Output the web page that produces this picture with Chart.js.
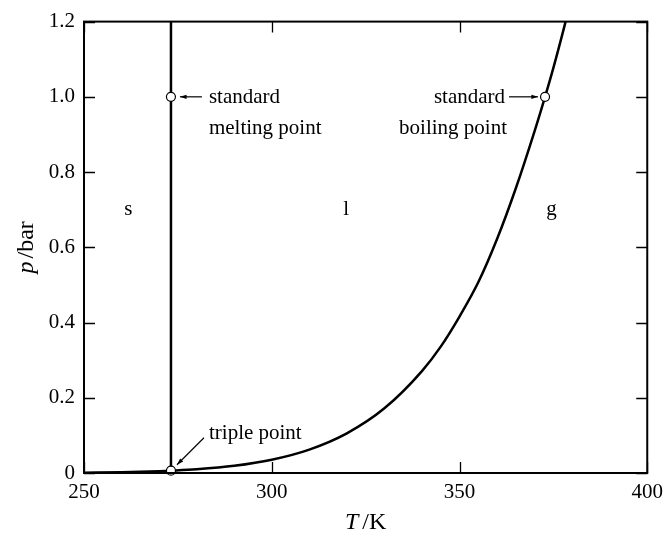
<!DOCTYPE html>
<html>
<head>
<meta charset="utf-8">
<title>Phase diagram of water</title>
<script src="https://cdn.jsdelivr.net/npm/chart.js@4.4.1/dist/chart.umd.min.js"></script>
<style>
    html, body { margin: 0; padding: 0; background: #fff; }
    #wrap { width: 670px; height: 533px; }
</style>
</head>
<body>
<div id="wrap"><canvas id="phaseChart" width="670" height="533"></canvas></div>
<script>
// ---- data ----
// vapour pressure / sublimation curve
const curveT = [250, 260, 270, 273.16, 280, 290, 300, 310, 320, 330, 340, 345, 350, 355, 360, 365, 370, 372.78, 375, 378, 380];
const curveP = [0.0008, 0.002, 0.0047, 0.0061, 0.0099, 0.0192, 0.0354, 0.0623, 0.1055, 0.172, 0.271, 0.336, 0.416, 0.507, 0.622, 0.757, 0.909, 1.0, 1.077, 1.19, 1.27];
// melting line (vertical)
const meltT = [273.16, 273.16];
const meltP = [0.0061, 1.2];
// marked points: triple, standard melting, standard boiling
const pointT = [273.16, 273.15, 372.78];
const pointP = [0.0061, 1.0, 1.0];

const xTicks = [250, 300, 350, 400];
const yTicks = [0, 0.2, 0.4, 0.6, 0.8, 1.0, 1.2];

const FONT = '"Liberation Serif", "DejaVu Serif", serif';

function toXY(xs, ys) {
    return xs.map((x, i) => ({ x: x, y: ys[i] }));
}

// ---- frame, inward ticks, labels, arrows ----
function arrow(ctx, x1, y1, x2, y2) {
    const a = Math.atan2(y2 - y1, x2 - x1);
    const h = 7;
    ctx.beginPath();
    ctx.moveTo(x1, y1);
    ctx.lineTo(x2, y2);
    ctx.lineWidth = 1.2;
    ctx.stroke();
    ctx.beginPath();
    ctx.moveTo(x2, y2);
    ctx.lineTo(x2 - h * Math.cos(a - 0.32), y2 - h * Math.sin(a - 0.32));
    ctx.lineTo(x2 - h * Math.cos(a + 0.32), y2 - h * Math.sin(a + 0.32));
    ctx.closePath();
    ctx.fill();
}

// italic symbol followed by upright unit, e.g. "T" + "/K"
function axisTitle(ctx, sym, unit, cx, y, gap) {
    ctx.font = 'italic 24px ' + FONT;
    const sW = ctx.measureText(sym).width;
    ctx.font = '24px ' + FONT;
    const uW = ctx.measureText(unit).width;
    const x0 = cx - (sW + gap + uW) / 2;
    ctx.textAlign = 'left';
    ctx.font = 'italic 24px ' + FONT;
    ctx.fillText(sym, x0, y);
    ctx.font = '24px ' + FONT;
    ctx.fillText(unit, x0 + sW + gap, y);
}

const decorPlugin = {
    id: 'decor',
    afterDraw(chart) {
        const ctx = chart.ctx;
        const a = chart.chartArea;
        const xs = chart.scales.x;
        const ys = chart.scales.y;
        ctx.save();
        ctx.strokeStyle = '#000';
        ctx.fillStyle = '#000';

        // ticks on all four sides
        ctx.lineWidth = 1.3;
        const tl = 11;
        xTicks.forEach(v => {
            const px = Math.round(xs.getPixelForValue(v)) + 0.5;
            ctx.beginPath();
            ctx.moveTo(px, a.bottom); ctx.lineTo(px, a.bottom - tl);
            ctx.moveTo(px, a.top); ctx.lineTo(px, a.top + tl);
            ctx.stroke();
        });
        yTicks.forEach(v => {
            const py = Math.round(ys.getPixelForValue(v)) + 0.5;
            ctx.beginPath();
            ctx.moveTo(a.left, py); ctx.lineTo(a.left + tl, py);
            ctx.moveTo(a.right, py); ctx.lineTo(a.right - tl, py);
            ctx.stroke();
        });

        // frame
        ctx.lineWidth = 2;
        ctx.strokeRect(a.left, a.top, a.right - a.left, a.bottom - a.top);

        // region labels
        ctx.font = '21px ' + FONT;
        ctx.textAlign = 'center';
        ctx.textBaseline = 'middle';
        const yReg = ys.getPixelForValue(0.7);
        ctx.fillText('s', xs.getPixelForValue(261.8), yReg);
        ctx.fillText('l', xs.getPixelForValue(319.8), yReg);
        ctx.fillText('g', xs.getPixelForValue(374.5), yReg);

        // standard melting point
        const mx = xs.getPixelForValue(pointT[1]);
        const my = ys.getPixelForValue(pointP[1]);
        arrow(ctx, mx + 31, my, mx + 9, my);
        ctx.textAlign = 'left';
        ctx.fillText('standard', mx + 38, my + 1);
        ctx.fillText('melting point', mx + 38, my + 32);

        // standard boiling point
        const bx = xs.getPixelForValue(pointT[2]);
        const by = ys.getPixelForValue(pointP[2]);
        arrow(ctx, bx - 36, by, bx - 7, by);
        ctx.textAlign = 'right';
        ctx.fillText('standard', bx - 40, by + 1);
        ctx.fillText('boiling point', bx - 38, by + 32);

        // triple point
        const tx = xs.getPixelForValue(pointT[0]);
        const ty = ys.getPixelForValue(pointP[0]);
        arrow(ctx, tx + 33, ty - 33, tx + 6, ty - 6);
        ctx.textAlign = 'left';
        ctx.fillText('triple point', tx + 38, ty - 37);

        // axis titles
        ctx.textBaseline = 'alphabetic';
        axisTitle(ctx, 'T', '/K', (a.left + a.right) / 2, 529, 4);

        ctx.translate(33, (a.top + a.bottom) / 2);
        ctx.rotate(-Math.PI / 2);
        axisTitle(ctx, 'p', '/bar', 0, 0, 3);

        ctx.restore();
    }
};

document.addEventListener('DOMContentLoaded', function() {
    const el = document.getElementById('phaseChart');

    new Chart(el, {
        type: 'scatter',
        data: {
            datasets: [
                {
                    label: 'vapour pressure',
                    data: toXY(curveT, curveP),
                    showLine: true,
                    borderColor: '#000',
                    borderWidth: 2.5,
                    pointRadius: 0,
                    cubicInterpolationMode: 'monotone',
                    order: 2
                },
                {
                    label: 'melting',
                    data: toXY(meltT, meltP),
                    showLine: true,
                    borderColor: '#000',
                    borderWidth: 2.5,
                    pointRadius: 0,
                    order: 2
                },
                {
                    label: 'points',
                    data: toXY(pointT, pointP),
                    showLine: false,
                    pointRadius: 4.5,
                    pointBackgroundColor: '#fff',
                    pointBorderColor: '#000',
                    pointBorderWidth: 1.2,
                    clip: false,
                    order: 1
                }
            ]
        },
        options: {
            responsive: false,
            animation: false,
            devicePixelRatio: 1,
            layout: { padding: { top: 20, right: 19, left: 0, bottom: 0 } },
            plugins: {
                legend: { display: false },
                tooltip: { enabled: false }
            },
            scales: {
                x: {
                    type: 'linear',
                    min: 250,
                    max: 400,
                    afterFit: s => { s.height = 60; },
                    afterBuildTicks: s => { s.ticks = xTicks.map(v => ({ value: v })); },
                    grid: { display: false, drawTicks: false },
                    border: { display: false },
                    ticks: {
                        padding: 7,
                        color: '#000',
                        maxRotation: 0,
                        font: { family: FONT, size: 21 }
                    }
                },
                y: {
                    type: 'linear',
                    min: 0,
                    max: 1.2,
                    afterFit: s => { s.width = 84; },
                    afterBuildTicks: s => { s.ticks = yTicks.map(v => ({ value: v })); },
                    grid: { display: false, drawTicks: false },
                    border: { display: false },
                    ticks: {
                        padding: 9,
                        color: '#000',
                        font: { family: FONT, size: 21 },
                        callback: v => v === 0 ? '0' : v.toFixed(1)
                    }
                }
            }
        },
        plugins: [decorPlugin]
    });
});
</script>
</body>
</html>
